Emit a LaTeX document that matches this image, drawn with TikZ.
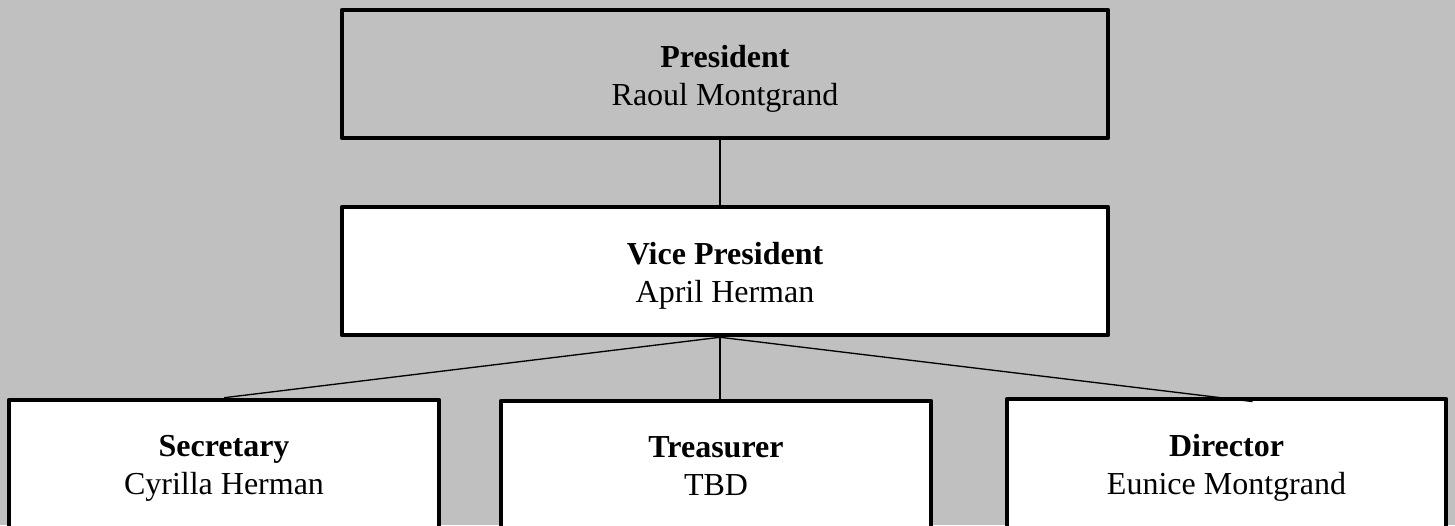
\documentclass[tikz,border=0pt]{standalone}
\usepackage{fontspec}
\setmainfont{Liberation Serif}
\definecolor{bg}{HTML}{C0C0C0}
\newcommand{\downtop}{\rule{0pt}{24pt}}
\newcommand{\downbot}{\rule{0pt}{19.5pt}}
\begin{document}
\begin{tikzpicture}[x=0.75pt,y=-0.75pt,
  box/.style={draw=black, line width=3.4pt, line join=round, align=center, inner sep=0pt,
    font=\fontsize{24}{28.5}\selectfont},
  link/.style={draw=black, line width=1pt}]
\fill[bg] (0,0) rectangle (1455,525);
\useasboundingbox (0,0) rectangle (1455,525);
\begin{scope}
\clip (0,0) rectangle (1455,525);
\node[box, fill=bg, minimum width=574.5pt, minimum height=96pt] (pres) at (725,74)
  {\downtop\textbf{President}\\Raoul Montgrand};
\node[box, fill=white, minimum width=574.5pt, minimum height=96pt] (vp) at (725,271)
  {\downtop\textbf{Vice President}\\April Herman};
\node[box, fill=white, minimum width=322.5pt, minimum height=99pt] (sec) at (224,466)
  {\downbot\textbf{Secretary}\\Cyrilla Herman};
\node[box, fill=white, minimum width=322.5pt, minimum height=98.25pt] (tre) at (716,466.5)
  {\downbot\textbf{Treasurer}\\TBD\rule[-5.2pt]{0pt}{5.2pt}};
\node[box, fill=white, minimum width=329.25pt, minimum height=99.75pt] (dir) at (1226.5,465.5)
  {\downbot\textbf{Director}\\Eunice Montgrand};
\coordinate (hub) at ([xshift=-3.75pt]vp.south);
\draw[link] ([xshift=-3.75pt]pres.south) -- ([xshift=-3.75pt]vp.north);
\draw[link] (hub) -- (sec.north);
\draw[link] (hub) -- (hub |- tre.north);
\draw[link] (hub) -- ([xshift=19.5pt,yshift=-3.6pt]dir.north);
\end{scope}
\end{tikzpicture}
\end{document}
